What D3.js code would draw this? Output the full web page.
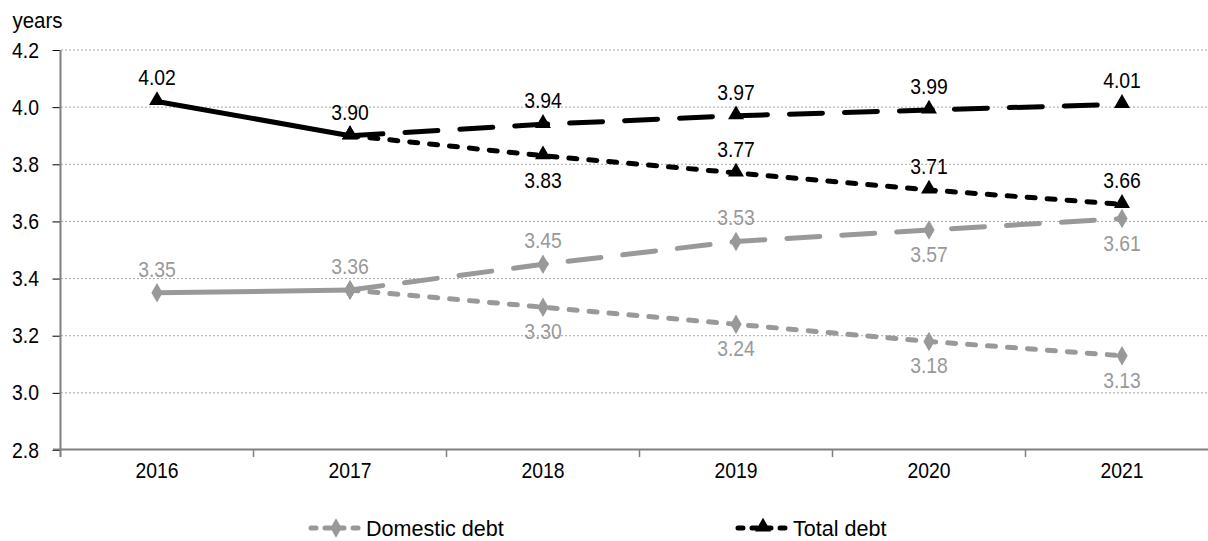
<!DOCTYPE html>
<html>
<head>
<meta charset="utf-8">
<script src="https://cdn.jsdelivr.net/npm/d3@7"></script>
<style>
  html, body { margin: 0; padding: 0; background: #fff; }
  svg { display: block; font-family: "Liberation Sans", Arial, sans-serif; }
</style>
</head>
<body>
<svg id="chart" width="1208" height="541"></svg>
<script>
// ---- data ----
const years = ["2016", "2017", "2018", "2019", "2020", "2021"];
const forecastYears = ["2017", "2018", "2019", "2020", "2021"];
const historyYears = ["2016", "2017"];

const totalHistory = [4.02, 3.90];
const totalHigh = [3.90, 3.94, 3.97, 3.99, 4.01];
const totalLow = [3.90, 3.83, 3.77, 3.71, 3.66];

const domesticHistory = [3.35, 3.36];
const domesticHigh = [3.36, 3.45, 3.53, 3.57, 3.61];
const domesticLow = [3.36, 3.30, 3.24, 3.18, 3.13];

const yTicks = [2.8, 3.0, 3.2, 3.4, 3.6, 3.8, 4.0, 4.2];
const yUnit = "years";
const legendLabels = ["Domestic debt", "Total debt"];

// label placement: "a" = above, "b" = below
const totalHistoryPos = ["a", "a"];
const totalHighPos = [null, "a", "a", "a", "a"];
const totalLowPos = [null, "b", "a", "a", "a"];
const domesticHistoryPos = ["a", "a"];
const domesticHighPos = [null, "a", "a", "b", "b"];
const domesticLowPos = [null, "b", "b", "b", "b"];

// ---- styles ----
const BLACK = "#000000";
const GREY = "#999999";
const FONT = 22;
const SX_NUM = 0.88;   // condensing of numeric text
const SX_UNIT = 0.93;
const SX_LEG = 0.98;

const svg = d3.select("#chart");

const x = d3.scaleBand().domain(years).range([60.5, 1218.5]).padding(0);
const y = d3.scaleLinear().domain([2.8, 4.2]).range([450, 50]);
const cx = d => x(d) + x.bandwidth() / 2;

function ctext(g, tx, ty, sx) {
  return g.append("text")
    .attr("transform", `translate(${tx},${ty}) scale(${sx},1)`)
    .attr("font-size", FONT);
}

// gridlines
svg.append("g")
  .selectAll("line")
  .data(yTicks.filter(t => t > 2.8))
  .join("line")
  .attr("x1", 61).attr("x2", 1218)
  .attr("y1", d => y(d)).attr("y2", d => y(d))
  .attr("stroke", "#a6a6a6")
  .attr("stroke-width", 1)
  .attr("stroke-dasharray", "2,2");

// y axis
const yAxis = svg.append("g")
  .attr("transform", "translate(60.5,0)")
  .call(d3.axisLeft(y).tickValues(yTicks).tickFormat(d3.format(".1f")).tickSize(8).tickPadding(16.5));
yAxis.attr("font-family", null);
yAxis.select(".domain").remove();
yAxis.selectAll(".tick line").attr("stroke", "#000").attr("stroke-width", 1);
yAxis.selectAll(".tick text")
  .attr("font-size", FONT).attr("fill", "#000")
  .attr("transform", `scale(${SX_NUM},1)`);
svg.append("line").attr("x1", 60.5).attr("x2", 60.5).attr("y1", 50).attr("y2", 457)
  .attr("stroke", "#808080").attr("stroke-width", 2);

// x axis
const xAxis = svg.append("g")
  .attr("transform", "translate(0,450)")
  .call(d3.axisBottom(x).tickSize(0).tickPadding(12.5));
xAxis.attr("font-family", null);
xAxis.select(".domain").remove();
xAxis.selectAll(".tick text")
  .attr("font-size", FONT).attr("fill", "#000")
  .attr("transform", `scale(${SX_NUM},1)`);
svg.append("g").selectAll("line")
  .data(years.slice(1))
  .join("line")
  .attr("x1", d => x(d)).attr("x2", d => x(d))
  .attr("y1", 450).attr("y2", 457)
  .attr("stroke", "#808080").attr("stroke-width", 1.5);
svg.append("line").attr("x1", 53).attr("x2", 1218).attr("y1", 449.5).attr("y2", 449.5)
  .attr("stroke", "#808080").attr("stroke-width", 2);

// y unit
ctext(svg, 12.5, 28, SX_UNIT).attr("fill", "#000").text(yUnit);

const line = d3.line().x(d => cx(d.year)).y(d => y(d.value));

function series(yrs, vals, color, dash, pos) {
  const data = yrs.map((yr, i) => ({ year: yr, value: vals[i], pos: pos[i] }));
  svg.append("path")
    .datum(data)
    .attr("d", line)
    .attr("fill", "none")
    .attr("stroke", color)
    .attr("stroke-width", 5)
    .attr("stroke-linecap", dash ? "round" : "butt")
    .attr("stroke-linejoin", "round")
    .attr("stroke-dasharray", dash || null);
  return data;
}

function markers(data, color, marker) {
  const sym = marker === "tri"
    ? d3.symbol().type(d3.symbolTriangle).size(110)
    : d3.symbol().type(d3.symbolDiamond).size(110);
  svg.append("g").selectAll("path")
    .data(data)
    .join("path")
    .attr("d", sym)
    .attr("transform", d => `translate(${cx(d.year)},${y(d.value) + (marker === "tri" ? -1 : 0)})`)
    .attr("fill", color);
}

function labels(data, color) {
  const g = svg.append("g");
  data.filter(d => d.pos).forEach(d => {
    ctext(g, cx(d.year), d.pos === "a" ? y(d.value) - 16 : y(d.value) + 32, SX_NUM)
      .attr("text-anchor", "middle")
      .attr("fill", color)
      .text(d3.format(".2f")(d.value));
  });
}

const LONG = "33,22";
const SHORT = "8,12";

const dLow = series(forecastYears, domesticLow, GREY, SHORT, domesticLowPos);
const dHigh = series(forecastYears, domesticHigh, GREY, LONG, domesticHighPos);
const dHist = series(historyYears, domesticHistory, GREY, null, domesticHistoryPos);
const tLow = series(forecastYears, totalLow, BLACK, SHORT, totalLowPos);
const tHigh = series(forecastYears, totalHigh, BLACK, LONG, totalHighPos);
const tHist = series(historyYears, totalHistory, BLACK, null, totalHistoryPos);

[dLow, dHigh, dHist].forEach(d => { markers(d, GREY, "dia"); labels(d, GREY); });
[tLow, tHigh, tHist].forEach(d => { markers(d, BLACK, "tri"); labels(d, BLACK); });

// legend
const legend = [
  { label: legendLabels[0], color: GREY, marker: "dia", x0: 308 },
  { label: legendLabels[1], color: BLACK, marker: "tri", x0: 735 }
];
const lg = svg.append("g");
legend.forEach(l => {
  const g = lg.append("g").attr("transform", `translate(${l.x0},528)`);
  g.append("line").attr("x1", 3).attr("x2", 54).attr("y1", 0).attr("y2", 0)
    .attr("stroke", l.color).attr("stroke-width", 5).attr("stroke-linecap", "round")
    .attr("stroke-dasharray", "5,9");
  g.append("path")
    .attr("d", (l.marker === "tri" ? d3.symbol().type(d3.symbolTriangle) : d3.symbol().type(d3.symbolDiamond)).size(110))
    .attr("transform", `translate(28,${l.marker === "tri" ? -1 : 0})`)
    .attr("fill", l.color);
  ctext(g, 58, 8, SX_LEG).attr("fill", "#000").text(l.label);
});
</script>
</body>
</html>
